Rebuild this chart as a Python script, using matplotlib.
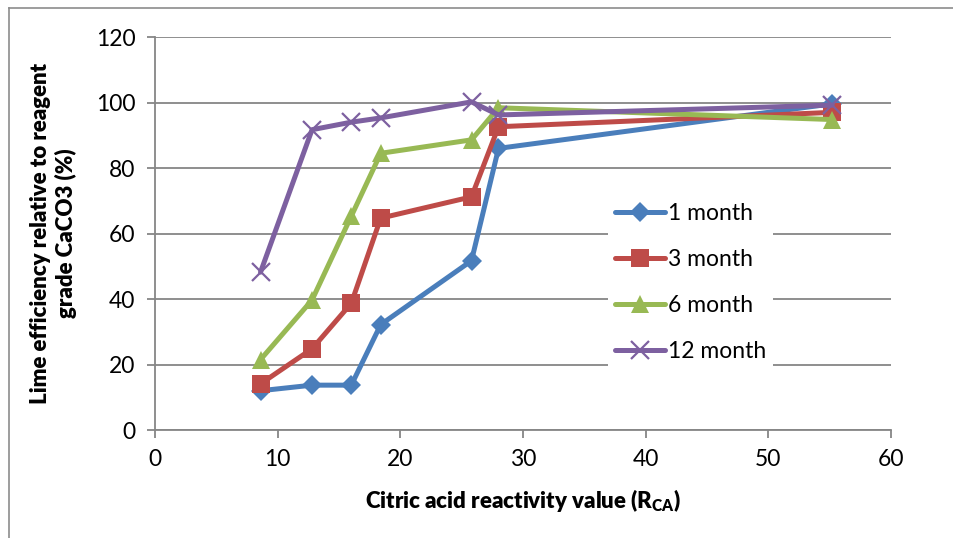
import matplotlib
matplotlib.use('Agg')
import matplotlib.pyplot as plt
from matplotlib.lines import Line2D

plt.rcParams['font.family'] = ['Lato', 'DejaVu Sans']

# citric acid reactivity values (x) and lime efficiency per ageing period
rca = [8.6, 12.8, 16.0, 18.4, 25.8, 28.0, 55.2]
month_1 = [12.0, 13.7, 13.7, 32.2, 51.7, 86.0, 99.6]
month_3 = [14.1, 24.8, 38.7, 64.7, 71.2, 92.6, 97.0]
month_6 = [21.5, 39.7, 65.3, 84.5, 88.6, 98.4, 94.8]
month_12 = [48.2, 91.7, 94.0, 95.3, 100.2, 96.2, 99.2]

labels = ['1 month', '3 month', '6 month', '12 month']
colors = ['#4A7EBB', '#BE4B48', '#98B954', '#7D60A0']
markers = ['D', 's', '^', 'x']
msizes = [10, 13, 13, 13]

fig = plt.figure(figsize=(9.54, 5.38), dpi=100)
ax = fig.add_axes([0.1625, 0.2007, 0.7715, 0.7305])

# frame around chart area (left/top edges visible)
fig.add_artist(Line2D([0.009, 0.009], [0.0, 0.985], transform=fig.transFigure,
                      color='#8c8c8c', lw=1.2))
fig.add_artist(Line2D([0.009, 1.0], [0.985, 0.985], transform=fig.transFigure,
                      color='#8c8c8c', lw=1.2))

for y, lab, c, m, ms in zip([month_1, month_3, month_6, month_12], labels, colors, markers, msizes):
    mew = 1.6 if m == 'x' else 0
    ax.plot(rca, y, color=c, lw=3.6, marker=m, markersize=ms, label=lab,
            markeredgewidth=mew, markeredgecolor=c, markerfacecolor=c,
            solid_joinstyle='round', solid_capstyle='round', clip_on=False)

ax.set_xlim(0, 60)
ax.set_ylim(0, 120)
ax.set_xticks(range(0, 61, 10))
ax.set_yticks(range(0, 121, 20))
ax.yaxis.grid(True, color='#868686', lw=1.3)
ax.set_axisbelow(True)
for s in ['top', 'right']:
    ax.spines[s].set_visible(False)
for s in ['left', 'bottom']:
    ax.spines[s].set_color('#868686')
    ax.spines[s].set_linewidth(1.3)
ax.tick_params(axis='both', colors='#868686', length=6, width=1.3, labelsize=16.5,
               labelcolor='black', pad=8)

ax.set_xlabel('Citric acid reactivity value (R$_{\\mathregular{CA}}$)', fontsize=16,
              fontweight='heavy', labelpad=12)
ax.set_ylabel('Lime efficiency relative to reagent\ngrade CaCO3 (%)', fontsize=16,
              fontweight='heavy', labelpad=14, linespacing=1.2)

leg = ax.legend(loc='upper left', bbox_to_anchor=(0.6, 0.625), fontsize=16.5,
                frameon=True, facecolor='white', edgecolor='none', framealpha=1,
                fancybox=False, handlelength=2.2, handletextpad=0.12,
                labelspacing=1.1, borderpad=0.3)

fig.savefig('out.png', dpi=100)
